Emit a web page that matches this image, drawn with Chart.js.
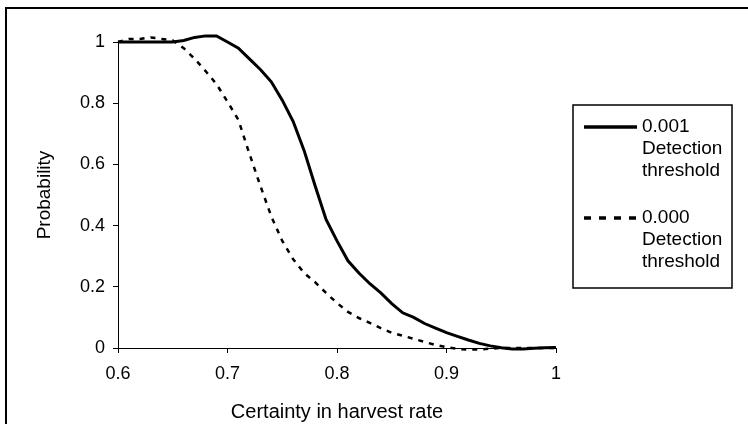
<!DOCTYPE html>
<html>
<head>
<meta charset="utf-8">
<script src="https://cdn.jsdelivr.net/npm/chart.js@4.4.1/dist/chart.umd.min.js"></script>
<style>
  html, body { margin: 0; padding: 0; background: #fff; }
  #wrap { width: 748px; height: 424px; }
</style>
</head>
<body>
<div id="wrap"><canvas id="myChart" width="748" height="424"></canvas></div>
<script>
const certainty = [0.60, 0.61, 0.62, 0.63, 0.64, 0.65, 0.66, 0.67, 0.68, 0.69,
                   0.70, 0.71, 0.72, 0.73, 0.74, 0.75, 0.76, 0.77, 0.78, 0.79,
                   0.80, 0.81, 0.82, 0.83, 0.84, 0.85, 0.86, 0.87, 0.88, 0.89,
                   0.90, 0.91, 0.92, 0.93, 0.94, 0.95, 0.96, 0.97, 0.98, 0.99, 1.00];
const prob001 = [1.00, 1.00, 1.00, 1.00, 1.00, 1.00, 1.005, 1.015, 1.02, 1.02,
                 1.00, 0.98, 0.945, 0.91, 0.87, 0.81, 0.74, 0.645, 0.53, 0.42,
                 0.35, 0.285, 0.245, 0.21, 0.18, 0.145, 0.115, 0.10, 0.08, 0.065,
                 0.05, 0.038, 0.026, 0.015, 0.007, 0.001, -0.003, -0.003, -0.001, 0.001, 0.002];
const prob000 = [1.00, 1.01, 1.01, 1.015, 1.01, 1.005, 0.98, 0.945, 0.905, 0.862,
                 0.805, 0.745, 0.635, 0.53, 0.43, 0.35, 0.29, 0.245, 0.215, 0.18,
                 0.147, 0.118, 0.098, 0.082, 0.065, 0.05, 0.04, 0.03, 0.02, 0.01,
                 0.003, -0.003, -0.005, -0.005, -0.002, 0, 0, 0, 0, 0, 0];
const xTicks = [0.6, 0.7, 0.8, 0.9, 1];
const yTicks = [0, 0.2, 0.4, 0.6, 0.8, 1];
const seriesLabels = ['0.001\nDetection\nthreshold', '0.000\nDetection\nthreshold'];

const FONT = 'Liberation Sans, Arial, sans-serif';
const pts = (ys) => certainty.map((x, i) => ({ x: x, y: ys[i] }));

// outer frame + boxed legend on the right
const framePlugin = {
  id: 'frameAndLegend',
  afterDraw(chart) {
    const c = chart.ctx;
    const area = chart.chartArea;
    c.save();
    c.strokeStyle = '#000';
    c.lineWidth = 2;
    c.beginPath();
    c.moveTo(6, chart.height);
    c.lineTo(6, 8);
    c.lineTo(chart.width, 8);
    c.stroke();

    const bx = area.right + 17, by = 105, bw = 159, bh = 183;
    c.lineWidth = 1.5;
    c.strokeRect(bx, by, bw, bh);

    c.font = '19px ' + FONT;
    c.fillStyle = '#000';
    c.textBaseline = 'middle';
    chart.data.datasets.forEach((ds, i) => {
      const y0 = by + 22 + i * 91;
      c.lineWidth = 3.5;
      c.setLineDash(ds.borderDash ? [7, 8] : []);
      c.beginPath();
      c.moveTo(bx + 11, y0);
      c.lineTo(bx + 64, y0);
      c.stroke();
      c.setLineDash([]);
      ds.label.split('\n').forEach((t, j) => c.fillText(t, bx + 69, y0 + j * 22));
    });
    c.restore();
  }
};

new Chart(document.getElementById('myChart'), {
  type: 'line',
  data: {
    datasets: [
      {
        label: seriesLabels[0],
        data: pts(prob001),
        borderColor: '#000',
        borderWidth: 3,
        pointRadius: 0,
        tension: 0,
        clip: false
      },
      {
        label: seriesLabels[1],
        data: pts(prob000),
        borderColor: '#000',
        borderWidth: 2.5,
        borderDash: [5, 6],
        pointRadius: 0,
        tension: 0,
        clip: false
      }
    ]
  },
  options: {
    responsive: false,
    animation: false,
    layout: { padding: { left: 33, right: 192, top: 42, bottom: 0 } },
    scales: {
      x: {
        type: 'linear',
        min: 0.6,
        max: 1,
        afterBuildTicks: (s) => { s.ticks = xTicks.map(v => ({ value: v })); },
        afterFit: (s) => { s.height = 76; },
        grid: { drawOnChartArea: false, drawTicks: true, tickLength: 5, color: '#000' },
        border: { display: true, color: '#000', width: 1 },
        ticks: { color: '#000', padding: 10, font: { family: FONT, size: 18 }, callback: v => String(v) },
        title: { display: true, text: 'Certainty in harvest rate', color: '#000', padding: 0, font: { family: FONT, size: 20 } }
      },
      y: {
        min: 0,
        max: 1,
        afterBuildTicks: (s) => { s.ticks = yTicks.map(v => ({ value: v })); },
        afterFit: (s) => { s.width = 85; },
        grid: { drawOnChartArea: false, drawTicks: true, tickLength: 5, color: '#000' },
        border: { display: true, color: '#000', width: 1 },
        ticks: { color: '#000', padding: 8, font: { family: FONT, size: 18 }, callback: v => String(v) },
        title: { display: true, text: 'Probability', color: '#000', padding: 0, font: { family: FONT, size: 19 } }
      }
    },
    plugins: {
      legend: { display: false },
      tooltip: { enabled: false }
    }
  },
  plugins: [framePlugin]
});
</script>
</body>
</html>
